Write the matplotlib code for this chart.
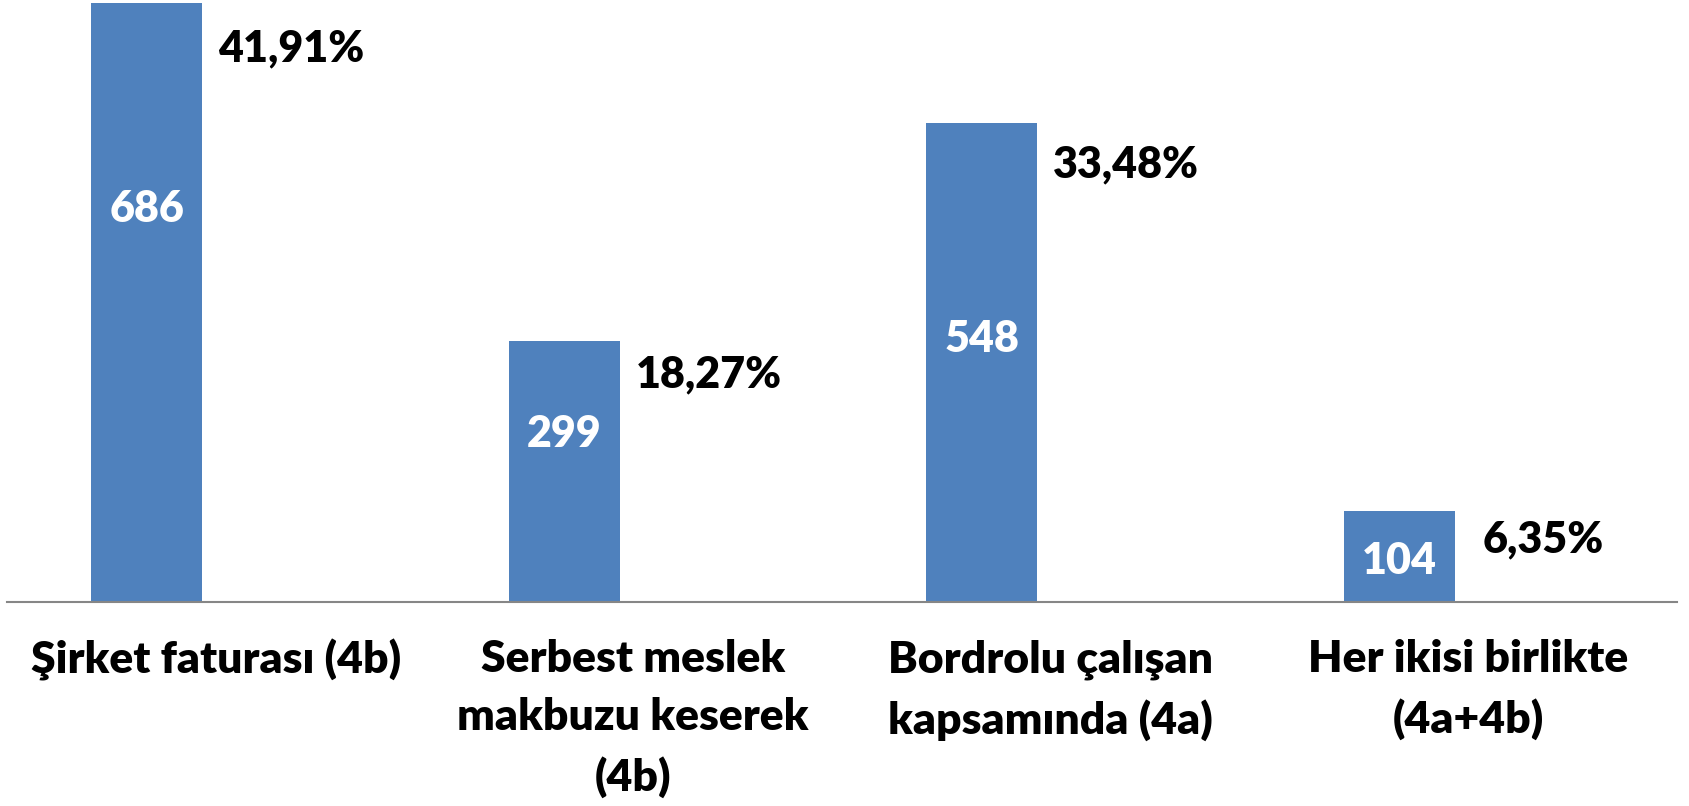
import matplotlib.pyplot as plt
import numpy as np

categories = ["Şirket faturası (4b)", "Serbest meslek\nmakbuzu keserek\n(4b)",
              "Bordrolu çalışan\nkapsamında (4a)", "Her ikisi birlikte\n(4a+4b)"]
counts = [686, 299, 548, 104]
percents = [41.91, 18.27, 33.48, 6.35]
percent_labels = ["41,91%", "18,27%", "33,48%", "6,35%"]

# where the white count label sits inside each bar (fraction of bar height)
count_label_frac = [0.66, 0.65, 0.555, 0.47]

bar_color = "#4F81BD"
font = "Lato"

fig = plt.figure(figsize=(16.9, 8.06), dpi=100)
ax = fig.add_axes([7 / 1690, 1 - 601.7 / 806, 1670 / 1690, 601.7 / 806])

x = np.arange(len(categories))
ax.bar(x - 0.165, counts, width=0.266, color=bar_color, zorder=2)
ax.set_xlim(-0.5, len(categories) - 0.5)
ax.set_ylim(0, 689.5)

for xi, c, f in zip(x, counts, count_label_frac):
    ax.annotate(str(c), (xi - 0.165, c * f), xytext=(0, -11), textcoords="offset points",
                ha="center", va="baseline", color="white", fontsize=31,
                fontweight="heavy", family=font)

# percentages ride on a hidden secondary scale
ax2 = ax.twinx()
ax2.set_ylim(2.79, 46.32)
ax2.axis("off")
for xi, p, lab in zip(x, percents, percent_labels):
    ax2.text(xi + 0.18, p, lab, ha="center", va="baseline", fontsize=31,
             fontweight="heavy", family=font, color="black")

for side in ["top", "right", "left"]:
    ax.spines[side].set_visible(False)
ax.spines["bottom"].set_color("#868686")
ax.spines["bottom"].set_linewidth(1.5)
ax.set_yticks([])
ax.set_xticks(x)
ax.set_xticklabels(categories, fontsize=32, fontweight="heavy", family=font,
                   linespacing=1.55)
ax.tick_params(axis="x", length=0, pad=27)

fig.savefig("out.png", dpi=100)
